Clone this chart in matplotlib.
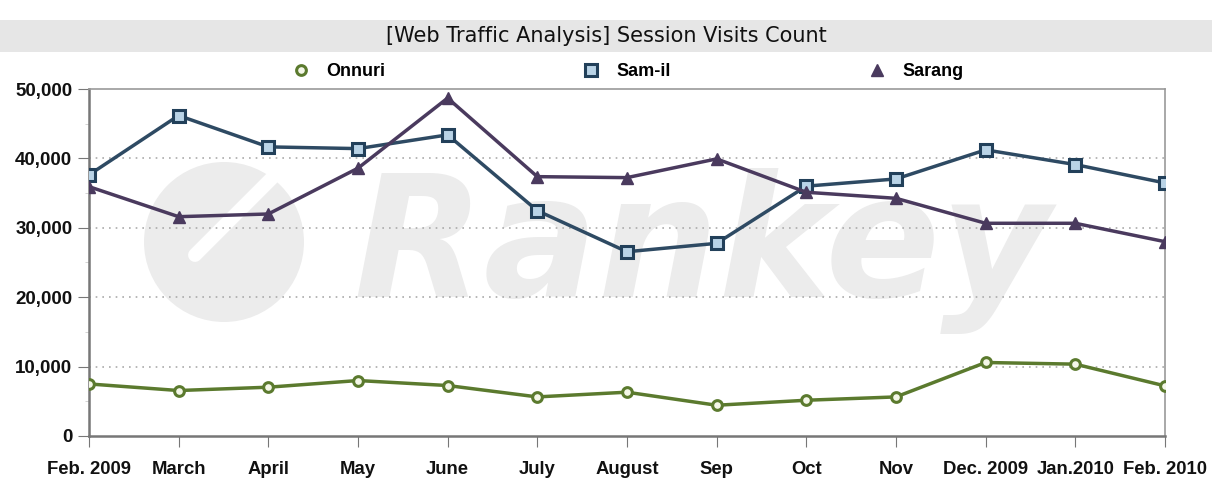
import numpy as np
import matplotlib.pyplot as plt
from matplotlib.patches import Rectangle, Ellipse
from matplotlib.lines import Line2D

####################################################
# Data
####################################################
months = ['Feb. 2009', 'March', 'April', 'May', 'June', 'July', 'August',
          'Sep', 'Oct', 'Nov', 'Dec. 2009', 'Jan.2010', 'Feb. 2010']
onnuri = [7500, 6550, 7030, 7990, 7270, 5630, 6310, 4430, 5150, 5630, 10590, 10350, 7220]
samil = [37620, 46180, 41660, 41410, 43390, 32470, 26550, 27760, 36000, 37040, 41230, 39110, 36460]
sarang = [35930, 31600, 31990, 38590, 48690, 37370, 37230, 39930, 35120, 34250, 30650, 30650, 28000]
yticks = [0, 10000, 20000, 30000, 40000, 50000]
title = '[Web Traffic Analysis] Session Visits Count'

W, H = 1212, 478
fig = plt.figure(figsize=(W / 100, H / 100), dpi=100)
ax = fig.add_axes([0.0734, 0.0879, 0.8878, 0.7259])

# title band
fig.patches.append(Rectangle((0, 0.891), 1, 0.067, transform=fig.transFigure,
                             facecolor='#e6e6e6', edgecolor='none', zorder=0))
fig.text(0.5, 0.924, title, ha='center', va='center', fontsize=15,
         family=['Liberation Sans Narrow', 'DejaVu Sans'], color='#111111')

# watermark (logo circle with slash + word)
wm = '#ececec'
ax.add_patch(Ellipse((224 / W, 1 - 242 / H), 160 / W, 160 / H, transform=fig.transFigure,
                     facecolor=wm, edgecolor='none', zorder=0))
ax.add_line(Line2D([195 / W, 282 / W], [1 - 255 / H, 1 - 168 / H], transform=fig.transFigure,
                   color='white', lw=10, solid_capstyle='round', zorder=0.5))
ax.text(0.57, 0.40, 'Rankey', transform=ax.transAxes, ha='center', va='baseline',
        fontsize=122, fontweight='bold', style='italic', color=wm, zorder=0)

x = np.arange(len(months))
ax.plot(x, onnuri, '-o', color='#5b7a2e', lw=2.5, ms=7, mfc='#f4f7e8', mec='#5b7a2e',
        mew=2.2, label='Onnuri', zorder=3)
ax.plot(x, samil, '-s', color='#2e4a63', lw=2.5, ms=8, mfc='#b9d3e6', mec='#22405a',
        mew=2.2, label='Sam-il', zorder=3)
ax.plot(x, sarang, '-^', color='#4a3a5e', lw=2.5, ms=8, mfc='#4a3a5e', mec='#4a3a5e',
        label='Sarang', zorder=3)

ax.set_xlim(0, len(months) - 1)
ax.set_ylim(0, 50000)
ax.set_xticks(x)
ax.set_xticklabels(months)
ax.set_yticks(yticks)
ax.set_yticklabels(['{:,}'.format(v) for v in yticks])
ax.set_yticks(np.arange(5000, 50000, 10000), minor=True)
ax.tick_params(axis='y', which='minor', length=3, color='#cccccc')
ax.tick_params(axis='both', which='major', length=8, color='#777777', pad=4)
ax.tick_params(axis='x', pad=10)
for lab in ax.get_xticklabels():
    lab.set_fontsize(13.3)
for lab in ax.get_yticklabels():
    lab.set_fontsize(13.5)
for lab in ax.get_xticklabels() + ax.get_yticklabels():
    lab.set_fontweight('bold')
    lab.set_family(['Liberation Sans', 'DejaVu Sans'])
    lab.set_color('#111111')

for v in yticks[1:-1]:
    ax.axhline(v, color='#aaaaaa', lw=1.2, ls=(0, (1, 3)), zorder=1)

for side in ['left', 'bottom']:
    ax.spines[side].set_color('#777777')
    ax.spines[side].set_linewidth(1.8)
for side in ['top', 'right']:
    ax.spines[side].set_color('#999999')
    ax.spines[side].set_linewidth(1.2)

leg = ax.legend(loc='lower center', bbox_to_anchor=(0.50, 1.0), ncol=3, frameon=False,
                prop={'family': ['Liberation Sans', 'DejaVu Sans'], 'weight': 'bold', 'size': 13},
                handlelength=1.2, handletextpad=0.8, columnspacing=10.8, borderaxespad=0.1)
for h in leg.legend_handles:
    h.set_linestyle('none')

fig.savefig('out.png', dpi=100)
